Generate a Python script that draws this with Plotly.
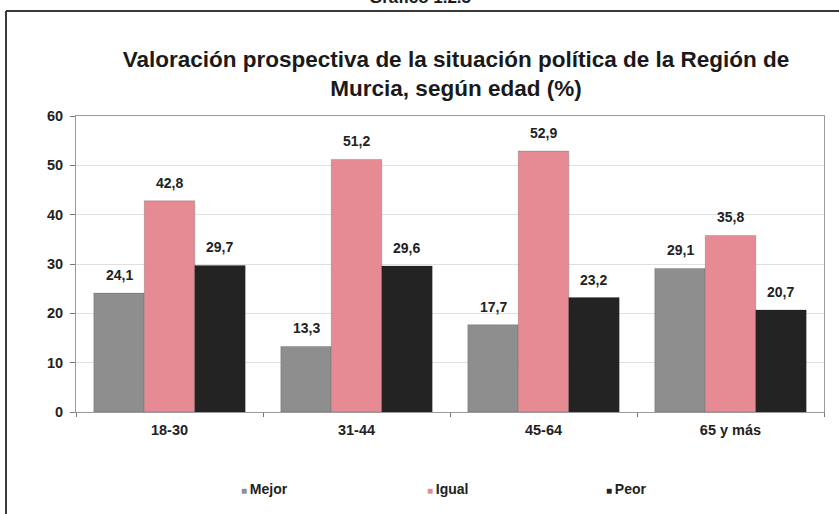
import plotly.graph_objects as go

categories = ["18-30", "31-44", "45-64", "65 y más"]
mejor = [24.1, 13.3, 17.7, 29.1]
igual = [42.8, 51.2, 52.9, 35.8]
peor = [29.7, 29.6, 23.2, 20.7]
series_names = ["Mejor", "Igual", "Peor"]
series_colors = ["#8e8e8e", "#e68a93", "#232323"]
y_ticks = [0, 10, 20, 30, 40, 50, 60]

W, H = 839, 514
L, R, T, B = 76, 15, 116, 102
pw, ph = W - L - R, H - T - B
BARGAP = 0.19

def px_x(x):
    return (x - L) / pw

def px_y(y):
    return (H - B - y) / ph

bar_px = pw / len(categories) * (1 - BARGAP) / len(series_names)
legend_ids = ["legend", "legend2", "legend3"]
legend_px = [201, 387, 566]

fig = go.Figure()
for i, (name, vals, col) in enumerate(zip(series_names, [mejor, igual, peor], series_colors)):
    fig.add_trace(go.Bar(
        x=categories, y=vals, name=name,
        marker=dict(color=col, line=dict(color="rgba(40,40,40,0.35)", width=0.6)),
        showlegend=False,
    ))
    fig.add_trace(go.Scatter(
        x=[None], y=[None], mode="markers",
        name=f"<span style='font-size:10px;color:{col}'>■ </span><b>{name}</b>",
        marker=dict(symbol="square", size=1, color="rgba(0,0,0,0)"),
        legend=legend_ids[i], showlegend=True,
    ))
    for c, v in zip(categories, vals):
        fig.add_annotation(
            x=c, y=v, xref="x", yref="y",
            text="<b>" + f"{v:.1f}".replace(".", ",") + "</b>",
            showarrow=False, xanchor="center", yanchor="bottom",
            xshift=(i - 1) * bar_px, yshift=8,
            font=dict(family="Liberation Sans, Arial", size=14, color="#222222"),
        )

legend_common = dict(
    orientation="h", xanchor="left", xref="container", yref="container",
    y=1 - 489 / H, yanchor="middle",
    itemwidth=30, font=dict(size=14, color="#222222"), bgcolor="rgba(0,0,0,0)",
)

fig.update_layout(
    width=W, height=H,
    margin=dict(l=L, r=R, t=T, b=B, autoexpand=False),
    paper_bgcolor="white", plot_bgcolor="white",
    barmode="group", bargap=BARGAP, bargroupgap=0,
    font=dict(family="Liberation Sans, Arial", color="#222222"),
    title=dict(
        text="<b>Valoración prospectiva de la situación política de la Región de<br>Murcia, según edad (%)</b>",
        x=px_x(456), xanchor="center", xref="paper",
        y=1 - 67 / H, yanchor="top",
        font=dict(size=22.5, color="#1a1a1a"),
    ),
    legend=dict(x=legend_px[0] / W, **legend_common),
    legend2=dict(x=legend_px[1] / W, **legend_common),
    legend3=dict(x=legend_px[2] / W, **legend_common),
    xaxis=dict(
        showline=True, linecolor="#9a9a9a", linewidth=1, mirror=True,
        ticks="outside", ticklen=4, tickcolor="#777777", tickson="boundaries",
        tickvals=categories, ticktext=[f"<b>{c}</b>" for c in categories],
        tickfont=dict(size=14.5, color="#222222"),
        ticklabelstandoff=5, automargin=False,
        showgrid=False,
    ),
    yaxis=dict(
        range=[0, 60], tickvals=y_ticks, ticktext=[f"<b>{v}</b>" for v in y_ticks],
        showline=True, linecolor="#9a9a9a", linewidth=1, mirror=True,
        ticks="outside", ticklen=5, tickcolor="#777777",
        tickfont=dict(size=14.5, color="#222222"),
        ticklabelstandoff=4, automargin=False,
        showgrid=True, gridcolor="#e0e0e0", gridwidth=1,
        zeroline=False,
    ),
)

# outer frame (top and left edges)
fig.add_shape(type="line", xref="paper", yref="paper",
              x0=px_x(6), x1=px_x(W + 5), y0=px_y(11), y1=px_y(11),
              line=dict(color="#3a3a3a", width=2))
fig.add_shape(type="line", xref="paper", yref="paper",
              x0=px_x(6), x1=px_x(6), y0=px_y(11), y1=px_y(H + 5),
              line=dict(color="#3a3a3a", width=2))

# cut-off caption above the frame
fig.add_annotation(text="<b>Gráfico 1.2.5</b>", xref="paper", yref="paper",
                   x=px_x(420), y=px_y(-3), xanchor="center", yanchor="middle",
                   showarrow=False, font=dict(size=17, color="#1a1a1a"))

fig.write_html("out.html", config={"displayModeBar": False},
               post_script="document.body.style.margin='0';document.body.style.overflow='hidden';")
